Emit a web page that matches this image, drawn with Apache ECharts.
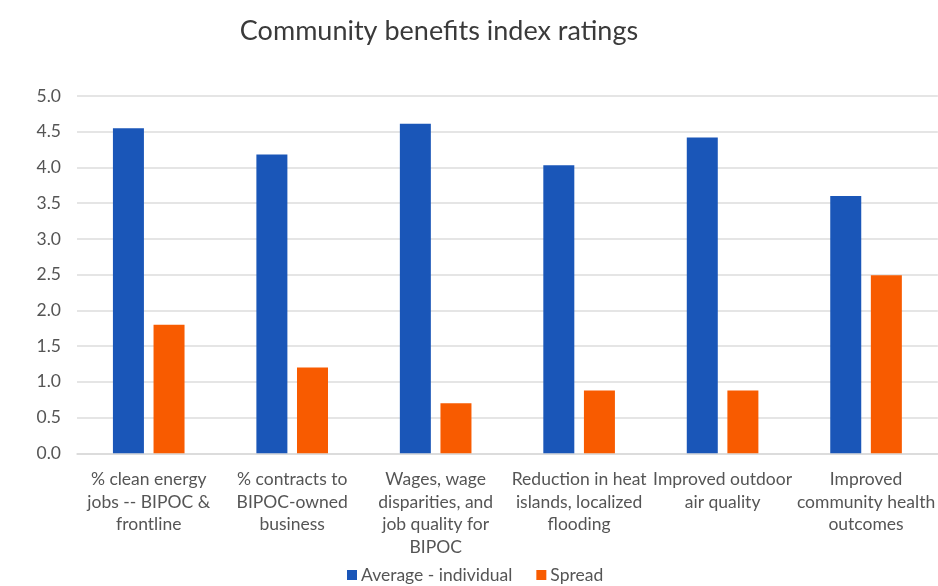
<!DOCTYPE html>
<html>
<head>
<meta charset="utf-8">
<script src="https://cdn.jsdelivr.net/npm/echarts@6/dist/echarts.min.js"></script>
<style>
  html, body { margin: 0; padding: 0; background: #fff; }
  #chart { width: 938px; height: 586px; }
</style>
</head>
<body>
<div id="chart"></div>
<script>
// Rating categories (line breaks as shown under the axis)
const categories = [
  '% clean energy\njobs -- BIPOC &\nfrontline',
  '% contracts to\nBIPOC-owned\nbusiness',
  'Wages, wage\ndisparities, and\njob quality for\nBIPOC',
  'Reduction in heat\nislands, localized\nflooding',
  'Improved outdoor\nair quality',
  'Improved\ncommunity health\noutcomes'
];
const seriesNames = ['Average - individual', 'Spread'];
const averageIndividual = [4.55, 4.18, 4.61, 4.03, 4.42, 3.6];
const spread = [1.8, 1.2, 0.7, 0.88, 0.88, 2.49];
const yTicks = { min: 0, max: 5, interval: 0.5 };

const FONT = 'Lato, "Open Sans", sans-serif';
const TEXT = '#555555';

const chart = echarts.init(document.getElementById('chart'), null, { renderer: 'canvas' });
chart.setOption({
  backgroundColor: '#ffffff',
  animation: false,
  title: {
    text: 'Community benefits index ratings',
    left: 434,
    top: 13,
    textAlign: 'center',
    textStyle: { fontFamily: FONT, fontSize: 27, fontWeight: 'normal', color: '#3a3a3a' }
  },
  legend: {
    data: seriesNames,
    left: 342,
    top: 561,
    itemWidth: 10,
    itemHeight: 10,
    itemGap: 24,
    icon: 'rect',
    textStyle: { fontFamily: FONT, fontSize: 17.5, color: TEXT, padding: [0, 0, 0, -1] }
  },
  grid: { left: 77, top: 96, width: 863, height: 357.3, containLabel: false },
  xAxis: {
    type: 'category',
    data: categories,
    axisLine: { show: true, lineStyle: { color: '#d9d9d9', width: 1.5 } },
    axisTick: { show: false },
    axisLabel: {
      interval: 0,
      margin: 15,
      fontFamily: FONT,
      fontSize: 17.5,
      lineHeight: 22.5,
      color: TEXT,
      align: 'center'
    }
  },
  yAxis: {
    type: 'value',
    min: yTicks.min,
    max: yTicks.max,
    interval: yTicks.interval,
    axisLine: { show: false },
    axisTick: { show: false },
    splitLine: { lineStyle: { color: '#dcdcdc', width: 1.5 } },
    axisLabel: {
      margin: 16,
      fontFamily: FONT,
      fontSize: 17.5,
      color: TEXT,
      formatter: v => v.toFixed(1)
    }
  },
  series: [
    {
      name: seriesNames[0],
      type: 'bar',
      data: averageIndividual,
      barWidth: 31,
      barGap: '31%',
      itemStyle: { color: '#1A56B8' }
    },
    {
      name: seriesNames[1],
      type: 'bar',
      data: spread,
      barWidth: 31,
      itemStyle: { color: '#F85B00' }
    }
  ]
});
</script>
</body>
</html>
